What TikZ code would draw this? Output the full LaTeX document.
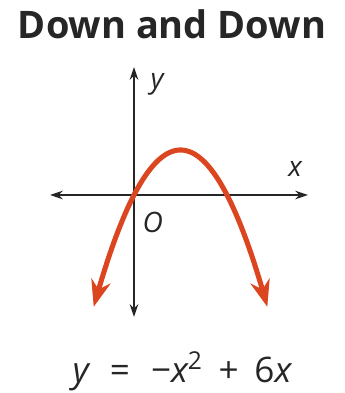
\documentclass[tikz,border=0pt]{standalone}
\usepackage{fontspec}
\setmainfont{Open Sans}
\usepackage{tikz}
\usetikzlibrary{calc}
\usetikzlibrary{arrows.meta}
\definecolor{rrqqff}{rgb}{0.86,0.27,0.12}
\definecolor{ttqqtt}{rgb}{0.15,0.15,0.15}
\tikzstyle{every node}=[font=\fontsize{20}{24}\selectfont,color=ttqqtt]
\tikzset{axisline/.style={line width=1.3pt,color=ttqqtt,{Stealth[length=9pt,width=6pt]}-{Stealth[length=9pt,width=6pt]}},
  curveline/.style={line width=3.6pt,color=rrqqff,{Stealth[length=19pt,width=14pt]}-{Stealth[length=19pt,width=14pt]}}}

\begin{document}
\begin{tikzpicture}[line cap=round,line join=round,x=1.0cm,y=1.0cm]
  \useasboundingbox (0,0) rectangle (8.6,9.825);
  % axes
  \coordinate (O) at (3.35,4.95);
  \coordinate (xl) at (1.25,4.95);
  \coordinate (xr) at (7.7,4.95);
  \coordinate (yb) at (3.35,1.9);
  \coordinate (yt) at (3.35,8.15);
  \draw [axisline] (xl) -- (xr);
  \draw [axisline] (yb) -- (yt);
  % parabola
  \begin{scope}[shift={(O)},x=0.3875cm,y=0.125cm]
    \draw [curveline,samples=80,domain=-2.6:8.6] plot (\x,{-\x*\x+6*\x});
  \end{scope}
  % labels
  \node (title) at (4.3,9.23) {\fontsize{27}{32}\selectfont\bfseries Down and Down};
  \node (ylab) at (3.93,7.72) {\itshape y};
  \node (xlab) at (7.38,5.6) {\itshape x};
  \node (olab) at (3.82,4.27) {\itshape O};
  \node (eq) at (4.55,0.55) {\fontsize{25}{30}\selectfont\itshape y\upshape\hspace{0.6em}=\hspace{0.6em}−\itshape x\upshape\textsuperscript{2}\hspace{0.45em}+\hspace{0.45em}6\itshape x};
\end{tikzpicture}
\end{document}
